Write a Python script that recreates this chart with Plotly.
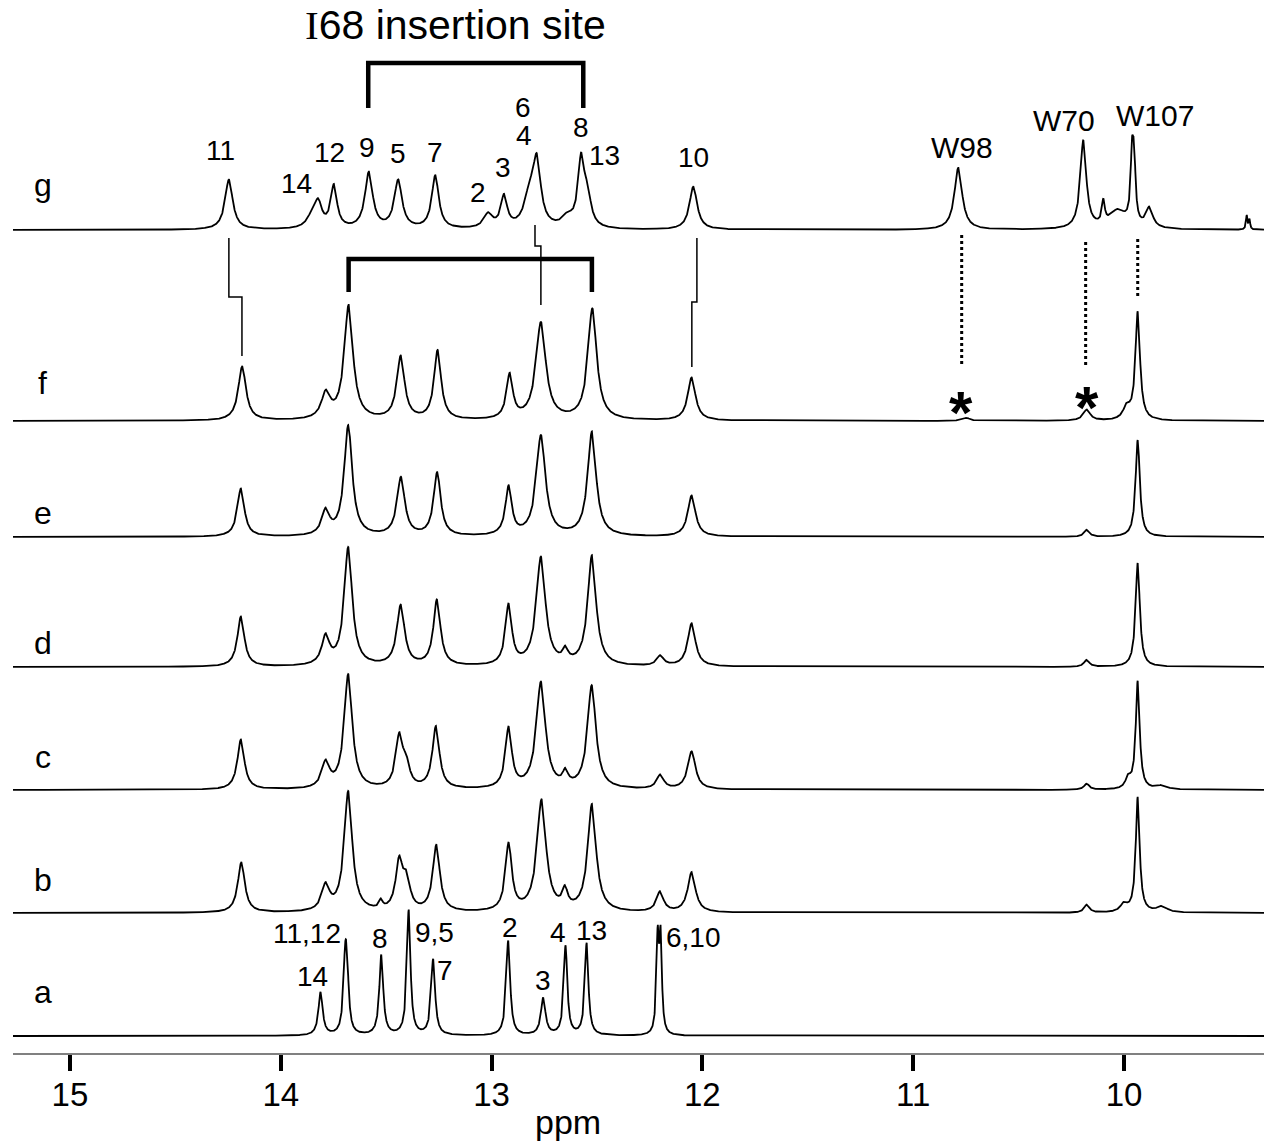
import numpy as np
import plotly.graph_objects as go

# ---------------- data ----------------
# each trace: peak positions (ppm), peak heights (arbitrary units), half widths (ppm)
g_pos = [14.246, 13.850, 13.822, 13.748, 13.582, 13.443, 13.267, 13.016, 12.941, 12.820, 12.785,
         12.640, 12.575, 12.545, 12.043, 10.786, 10.193, 10.098, 10.030, 9.962, 9.952, 9.880, 9.418, 9.405]
g_amp = [50, 12, 22, 42, 56, 48, 53, 14, 31, 30, 62,
         10, 66, 28, 43, 62, 88, 22, 18, 62, 58, 20, 14, 10]
g_wid = [0.022, 0.03, 0.02, 0.018, 0.022, 0.022, 0.02, 0.025, 0.018, 0.03, 0.022,
         0.03, 0.018, 0.02, 0.022, 0.022, 0.017, 0.008, 0.05, 0.008, 0.008, 0.02, 0.004, 0.004]

f_pos = [14.183, 13.786, 13.678, 13.431, 13.256, 12.914, 12.766, 12.522, 12.051, 10.747, 10.177, 9.987, 9.935]
f_amp = [54, 25, 114, 63, 69, 44, 97, 111, 43, 3, 11, 12, 108]
f_wid = [0.022, 0.025, 0.025, 0.022, 0.02, 0.018, 0.028, 0.025, 0.022, 0.02, 0.02, 0.02, 0.013]

e_pos = [14.189, 13.787, 13.680, 13.430, 13.258, 12.919, 12.766, 12.524, 12.051, 10.177, 9.935]
e_amp = [48, 24, 110, 58, 63, 48, 100, 104, 41, 7, 97]
e_wid = [0.02, 0.022, 0.023, 0.022, 0.02, 0.018, 0.026, 0.024, 0.022, 0.015, 0.012]

d_pos = [14.189, 13.787, 13.680, 13.431, 13.259, 12.919, 12.766, 12.650, 12.524, 12.200, 12.051, 10.177, 9.935]
d_amp = [50, 28, 118, 60, 66, 60, 108, 12, 110, 10, 43, 7, 104]
d_wid = [0.02, 0.022, 0.023, 0.022, 0.02, 0.018, 0.026, 0.015, 0.024, 0.02, 0.022, 0.015, 0.012]

c_pos = [14.189, 13.787, 13.680, 13.438, 13.405, 13.264, 12.919, 12.766, 12.650, 12.525, 12.200,
         12.051, 10.177, 9.980, 9.935, 9.820]
c_amp = [50, 25, 114, 50, 20, 62, 60, 106, 13, 103, 14, 38, 6, 10, 108, 4]
c_wid = [0.02, 0.022, 0.023, 0.02, 0.02, 0.02, 0.018, 0.026, 0.015, 0.024, 0.02,
         0.022, 0.015, 0.015, 0.011, 0.03]

b_pos = [14.187, 13.787, 13.680, 13.525, 13.438, 13.403, 13.262, 12.919, 12.763, 12.652, 12.524,
         12.201, 12.051, 10.177, 10.000, 9.935, 9.820]
b_amp = [50, 25, 120, 8, 48, 28, 66, 67, 111, 18, 107, 20, 40, 8, 8, 115, 6]
b_wid = [0.02, 0.022, 0.023, 0.01, 0.02, 0.02, 0.02, 0.018, 0.026, 0.015, 0.024,
         0.02, 0.022, 0.015, 0.02, 0.011, 0.03]

a_pos = [13.811, 13.695, 13.686, 13.523, 13.393, 13.277, 12.921, 12.755, 12.649, 12.549, 12.212, 12.198]
a_amp = [43, 60, 55, 80, 125, 76, 95, 37, 89, 92, 92, 92]
a_wid = [0.012, 0.010, 0.010, 0.011, 0.010, 0.011, 0.011, 0.013, 0.010, 0.010, 0.007, 0.007]

trace_names = ["g", "f", "e", "d", "c", "b", "a"]
tick_vals = [15, 14, 13, 12, 11, 10]
tick_text = ["15", "14", "13", "12", "11", "10"]

# peak labels: (text, ppm, height-units)
g_labels = [("11", 14.287, 903), ("14", 13.925, 870), ("12", 13.770, 901), ("9", 13.589, 906),
            ("5", 13.446, 900), ("7", 13.270, 901), ("2", 13.065, 861), ("3", 12.946, 886),
            ("6", 12.852, 946), ("4", 12.846, 918), ("8", 12.576, 926), ("13", 12.462, 898),
            ("10", 12.040, 896), ("W98", 10.770, 906), ("W70", 10.286, 933), ("W107", 9.853, 938)]
a_labels = [("11,12", 13.877, 120), ("14", 13.848, 77), ("8", 13.530, 115), ("9,5", 13.269, 121),
            ("7", 13.221, 83), ("2", 12.913, 126), ("3", 12.757, 73), ("4", 12.684, 121),
            ("13", 12.525, 123), ("6,10", 12.044, 116)]

# ---------------- layout constants ----------------
offsets = {"g": 823, "f": 632, "e": 516, "d": 386, "c": 263, "b": 140, "a": 17}
spectra = {"g": (g_pos, g_amp, g_wid), "f": (f_pos, f_amp, f_wid), "e": (e_pos, e_amp, e_wid),
           "d": (d_pos, d_amp, d_wid), "c": (c_pos, c_amp, c_wid), "b": (b_pos, b_amp, b_wid),
           "a": (a_pos, a_amp, a_wid)}
label_y = {"g": 868, "f": 670, "e": 540, "d": 410, "c": 296, "b": 173, "a": 61}

X_LEFT, X_RIGHT = 15.27, 9.336
ppm = np.arange(X_RIGHT, X_LEFT + 0.0005, 0.0008)

FONT = "Liberation Sans, Arial, sans-serif"

fig = go.Figure()
for name in trace_names:
    pos, amp, wid = spectra[name]
    y = np.zeros_like(ppm)
    for p, a, w in zip(pos, amp, wid):
        y += a / (1.0 + ((ppm - p) / w) ** 2)
    fig.add_trace(go.Scatter(x=ppm, y=y + offsets[name], mode="lines",
                             line=dict(color="black", width=1.8), showlegend=False,
                             hoverinfo="skip"))

ann = []
for name in trace_names:
    ann.append(dict(x=15.13, y=label_y[name], text=name, showarrow=False,
                    font=dict(size=32, color="black", family=FONT)))
for t, x, y in g_labels + a_labels:
    sz = 30 if t.startswith("W") else 28
    ann.append(dict(x=x, y=y, text=t, showarrow=False,
                    font=dict(size=sz, color="black", family=FONT)))
# asterisks
for x, y in [(10.775, 641), (10.177, 646)]:
    ann.append(dict(x=x, y=y, text="<b>*</b>", showarrow=False,
                    font=dict(size=60, color="black", family=FONT)))
# title
ann.append(dict(x=13.17, y=1028, text="<span style=\"font-family:'Liberation Serif'\">I</span>68 insertion site",
                showarrow=False, font=dict(size=41, color="black", family=FONT)))
# axis title
ann.append(dict(x=12.638, xref="x", y=-0.0655, yref="paper", yanchor="middle", text="ppm",
                showarrow=False, font=dict(size=34, color="black", family=FONT)))

shapes = []
def path(pts):
    return "M " + " L ".join(f"{x},{y}" for x, y in pts)

# brackets
shapes.append(dict(type="path", path=path([(13.585, 945), (13.585, 990), (12.565, 990), (12.565, 945)]),
                   line=dict(color="black", width=4.5), xref="x", yref="y"))
shapes.append(dict(type="path", path=path([(13.678, 761), (13.678, 794), (12.524, 794), (12.524, 761)]),
                   line=dict(color="black", width=4.5), xref="x", yref="y"))
# connectors
for pts in [[(14.246, 815), (14.246, 756), (14.184, 756), (14.184, 697)],
            [(12.794, 828), (12.794, 807), (12.766, 807), (12.766, 748)],
            [(12.026, 815), (12.026, 751), (12.050, 751), (12.050, 686)]]:
    shapes.append(dict(type="path", path=path(pts), line=dict(color="black", width=1.5),
                       xref="x", yref="y"))
# dotted
for x, y0, y1 in [(10.770, 818, 688), (10.182, 811, 685), (9.935, 814, 756)]:
    shapes.append(dict(type="line", x0=x, x1=x, y0=y0, y1=y1, xref="x", yref="y",
                       line=dict(color="black", width=3, dash="dot")))

fig.update_layout(
    width=1269, height=1144,
    margin=dict(l=13, r=5, t=0, b=91),
    paper_bgcolor="white", plot_bgcolor="white",
    annotations=ann, shapes=shapes,
    xaxis=dict(range=[X_LEFT, X_RIGHT], tickvals=tick_vals, ticktext=tick_text,
               ticks="outside", ticklen=16, tickwidth=4, tickcolor="black",
               showline=True, linecolor="#808080", linewidth=1.5,
               showgrid=False, zeroline=False, ticklabelstandoff=-4,
               tickfont=dict(size=33, color="black", family=FONT)),
    yaxis=dict(range=[0, 1053], visible=False, showgrid=False, zeroline=False),
)
fig.write_html("out.html", config={"displayModeBar": False},
               post_script="document.body.style.margin='0px';")
